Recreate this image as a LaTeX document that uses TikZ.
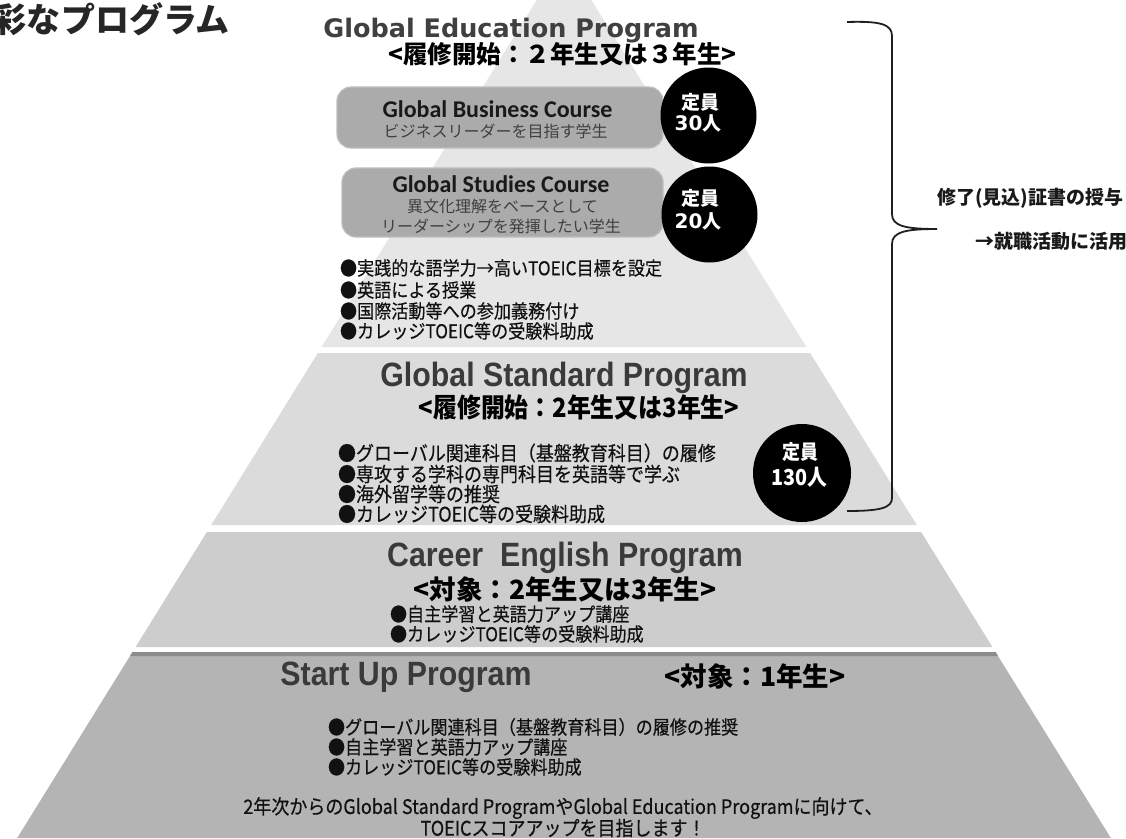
\documentclass[tikz,border=0pt]{standalone}
\usepackage{fontspec}
\setmainfont{Noto Sans CJK JP}
\newfontfamily\jp{Noto Sans CJK JP}
\newfontfamily\jpc{Noto Sans CJK JP}[FakeStretch=0.9]
\newfontfamily\jpcb{Noto Sans CJK JP}[FakeStretch=0.9,FakeBold=0.4]
\newfontfamily\verd{DejaVu Sans}
\newfontfamily\cali{Carlito}
\newfontfamily\narr{Liberation Sans}[FakeStretch=0.9]
\newcommand\fsz[1]{\fontsize{#1}{#1}\selectfont}
\definecolor{bandA}{HTML}{E6E6E6}
\definecolor{bandB}{HTML}{DBDBDB}
\definecolor{bandC}{HTML}{CDCDCD}
\definecolor{bandD}{HTML}{B4B4B4}
\definecolor{bandDtop}{HTML}{8C8C8C}
\definecolor{boxg}{HTML}{ABABAB}
\definecolor{boxedge}{HTML}{BEBEBE}
\definecolor{head}{HTML}{3A3A3A}
\definecolor{headA}{HTML}{404040}
\definecolor{ink}{HTML}{111111}
\tikzset{
  lbl/.style={inner sep=0pt, outer sep=0pt},
  bul/.style={lbl, anchor=west, font=\jpcb\fsz{19}, text=ink},
  capc/.style={circle, fill=black, minimum size=96pt, inner sep=0pt},
  captxt/.style={lbl, text=white, font=\jp\bfseries\fsz{19}},
  course/.style={rounded corners=14pt, fill=boxg, draw=boxedge, line width=1.2pt, inner sep=0pt},
  heading/.style={lbl, anchor=base, font=\narr\bfseries\fsz{33.7}, text=head},
  subt/.style={lbl, font=\jp\bfseries\fsz{24.5}, text=black},
  brace/.style={draw=black!88, line width=1.8pt},
  side/.style={lbl, anchor=west, font=\jp\bfseries\fsz{19}, text=black!90},
}
\begin{document}
\begin{tikzpicture}[x=1pt,y=-1pt]
\useasboundingbox (0,0) rectangle (1126,838);
\clip (0,0) rectangle (1126,838);
\fill[white] (0,0) rectangle (1126,838);
% pyramid bands
\fill[bandA] (564,-44) -- (806.4,347) -- (321.6,347) -- cycle;
\fill[bandB] (317.9,353) -- (810.1,353) -- (916.8,525) -- (211.2,525) -- cycle;
\fill[bandC] (206.9,532) -- (921.1,532) -- (992.4,647) -- (135.6,647) -- cycle;
\fill[bandD] (132.5,652) -- (995.5,652) -- (1110.8,838) -- (17.2,838) -- cycle;
\fill[bandDtop] (132.5,652) -- (995.5,652) -- (998,656) -- (130,656) -- cycle;

% title
\node[lbl, anchor=west, font=\jp\bfseries\fsz{34}, text=black!85] (title) at (-7,19) {彩なプログラム};

% Global Education Program
\node[lbl, anchor=base, font=\verd\bfseries\fsz{25.5}, text=headA] (gep) at (511,37) {Global Education Program};
\node[subt] (gepsub) at (562.5,54) {<履修開始：２年生又は３年生>};

\node[course, minimum width=326pt, minimum height=61pt] (box1) at (500,117.5) {};
\node[lbl, anchor=base, font=\cali\bfseries\fsz{24}, text=black!90] (box1t) at (497.5,117) {Global Business Course};
\node[lbl, font=\jp\fsz{16}, text=black!75] (box1s) at (495.5,131.5) {ビジネスリーダーを目指す学生};

\node[course, minimum width=321pt, minimum height=69pt] (box2) at (502.5,202.5) {};
\node[lbl, anchor=base, font=\cali\bfseries\fsz{24}, text=black!90] (box2t) at (501,192) {Global Studies Course};
\node[lbl, font=\jp\fsz{16}, text=black!75] (box2s) at (502.5,206) {異文化理解をベースとして};
\node[lbl, font=\jp\fsz{16}, text=black!75] (box2u) at (501,226) {リーダーシップを発揮したい学生};

\node[capc] (cap1) at (708.5,115.5) {};
\node[captxt] (cap1a) at (700,102) {定員};
\node[captxt] (cap1b) at (698,123.5) {{\verd\bfseries\fsz{20}30}人};
\node[capc] (cap2) at (709.5,214.5) {};
\node[captxt] (cap2a) at (700,198) {定員};
\node[captxt] (cap2b) at (698,221.5) {{\verd\bfseries\fsz{20}20}人};

\node[bul] (b1a) at (340,268) {●実践的な語学力→高いTOEIC目標を設定};
\node[bul] (b1b) at (340,290) {●英語による授業};
\node[bul] (b1c) at (340,311) {●国際活動等への参加義務付け};
\node[bul] (b1d) at (340,331) {●カレッジTOEIC等の受験料助成};

% Global Standard Program
\node[heading] (gsp) at (564,386) {Global Standard Program};
\node[subt, font=\jpc\bfseries\fsz{26.5}] (gspsub) at (579,407) {<履修開始：2年生又は3年生>};
\node[bul, font=\jpcb\fsz{20}] (b2a) at (338,453) {●グローバル関連科目（基盤教育科目）の履修};
\node[bul, font=\jpcb\fsz{20}] (b2b) at (338,474) {●専攻する学科の専門科目を英語等で学ぶ};
\node[bul, font=\jpcb\fsz{20}] (b2c) at (338,494) {●海外留学等の推奨};
\node[bul, font=\jpcb\fsz{20}] (b2d) at (338,514) {●カレッジTOEIC等の受験料助成};
\node[circle, fill=black, minimum width=98pt, minimum height=98pt, inner sep=0pt] (cap3) at (802,473) {};
\node[captxt, font=\jpc\bfseries\fsz{20}] (cap3a) at (800,452) {定員};
\node[captxt, font=\jpc\bfseries\fsz{22}] (cap3b) at (799,477) {130人};

% Career English Program
\node[heading] (cep) at (565,566) {Career\ \ English Program};
\node[subt, font=\jp\bfseries\fsz{26.5}] (cepsub) at (565,589) {<対象：2年生又は3年生>};
\node[bul] (b3a) at (390,614) {●自主学習と英語力アップ講座};
\node[bul] (b3b) at (390,634) {●カレッジTOEIC等の受験料助成};

% Start Up Program
\node[heading] (sup) at (406,685) {Start Up Program};
\node[subt, font=\jp\bfseries\fsz{26.5}] (supsub) at (755,676) {<対象：1年生>};
\node[bul] (b4a) at (328,727) {●グローバル関連科目（基盤教育科目）の履修の推奨};
\node[bul] (b4b) at (328,747) {●自主学習と英語力アップ講座};
\node[bul] (b4c) at (328,767) {●カレッジTOEIC等の受験料助成};
\node[lbl, font=\jpcb\fsz{20}, text=ink] (foot1) at (563,808) {2年次からのGlobal Standard ProgramやGlobal Education Programに向けて、};
\node[lbl, font=\jpcb\fsz{20}, text=ink] (foot2) at (563,828) {TOEICスコアアップを目指します！};

% brace
\coordinate (brTop) at (847,22);
\coordinate (brTip) at (937,229);
\coordinate (brBot) at (847,511);
\draw[brace] (brTop) .. controls (880,21) and (892,24) .. (892,36) -- (892,214)
  .. controls (892,226) and (905,229) .. (brTip)
  .. controls (905,229) and (892,232) .. (892,244) -- (892,498)
  .. controls (892,508) and (880,511) .. (brBot);
\node[side] (cert) at (937,198) {修了(見込)証書の授与};
\node[side] (job) at (975,241) {→就職活動に活用};
\end{tikzpicture}
\end{document}
